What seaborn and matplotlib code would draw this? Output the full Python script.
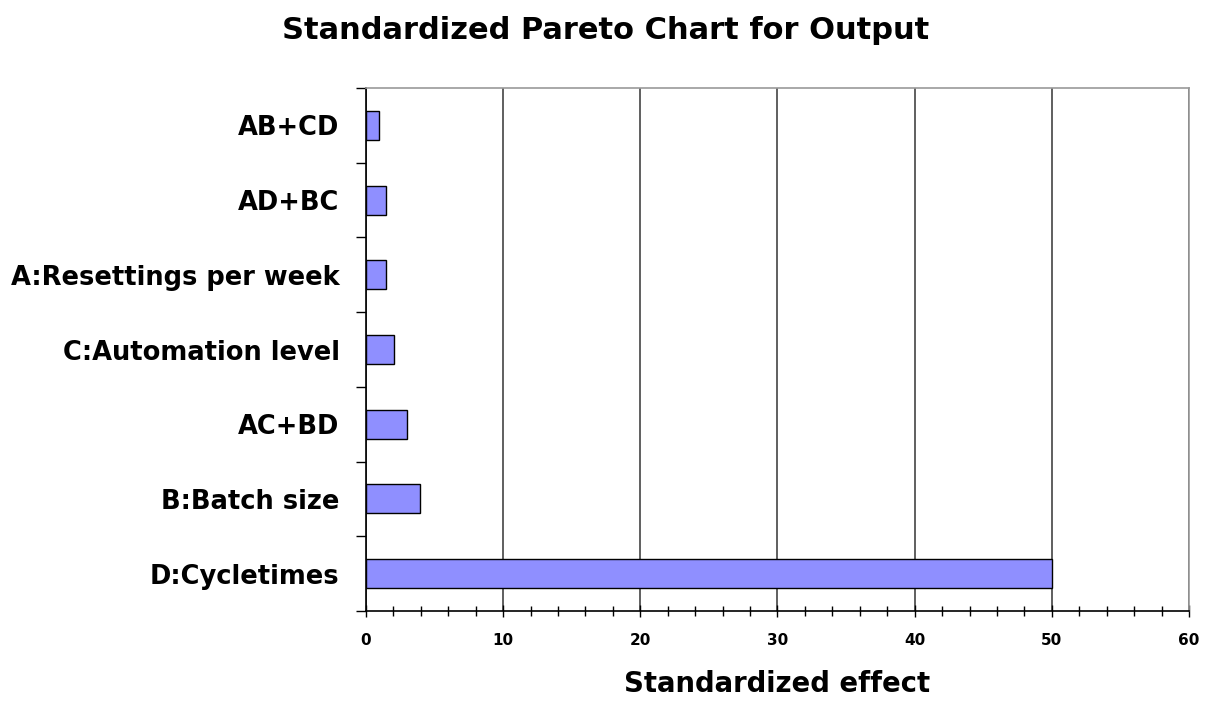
import matplotlib
matplotlib.use("Agg")
import matplotlib.pyplot as plt
from matplotlib.ticker import MultipleLocator, FixedLocator
import seaborn as sns
import pandas as pd

factors = ["AB+CD", "AD+BC", "A:Resettings per week", "C:Automation level",
           "AC+BD", "B:Batch size", "D:Cycletimes"]
effects = [0.95, 1.45, 1.45, 2.05, 3.0, 3.95, 50.0]
x_ticks = [0, 10, 20, 30, 40, 50, 60]

sns.set_theme(style="white")
plt.rcParams["font.family"] = ["DejaVu Sans"]
plt.rcParams["text.color"] = "black"
plt.rcParams["axes.labelcolor"] = "black"
plt.rcParams["xtick.color"] = "black"
plt.rcParams["ytick.color"] = "black"

df = pd.DataFrame({"factor": factors, "effect": effects})

fig = plt.figure(figsize=(12.07, 7.04), dpi=100)
ax = fig.add_axes([0.3032, 0.1321, 0.6819, 0.7429])

sns.barplot(data=df, x="effect", y="factor", orient="h", order=factors,
            color="#8f8fff", saturation=1, width=0.39, edgecolor="black",
            linewidth=1.0, ax=ax, zorder=3)

ax.set_xlim(0, 60)
ax.set_ylim(len(factors) - 0.5, -0.5)
ax.xaxis.set_major_locator(FixedLocator(x_ticks))
ax.xaxis.set_minor_locator(MultipleLocator(2))
ax.set_xticklabels([str(t) for t in x_ticks], fontsize=11, fontweight="bold")
ax.grid(axis="x", which="major", color="#444444", linewidth=1.2, zorder=0)
ax.grid(axis="y", visible=False)
ax.set_axisbelow(True)

ax.yaxis.set_minor_locator(FixedLocator([i - 0.5 for i in range(len(factors) + 1)]))
ax.tick_params(axis="y", which="major", length=0, pad=19, labelsize=18.5, labelcolor="black")
ax.tick_params(axis="y", which="minor", left=True, length=7, width=1.0, color="black", direction="out")
ax.tick_params(axis="x", which="major", bottom=True, length=8, width=1.0, color="black",
               direction="inout", pad=12, labelcolor="black")
ax.tick_params(axis="x", which="minor", bottom=True, length=7, width=1.0, color="black",
               direction="inout")
for lab in ax.get_yticklabels():
    lab.set_fontweight("bold")

ax.set_ylabel("")
ax.set_xlabel("Standardized effect", fontsize=19.8, fontweight="bold", labelpad=16, color="black")

for side in ["left", "bottom"]:
    ax.spines[side].set_color("black")
    ax.spines[side].set_linewidth(1.2)
for side in ["top", "right"]:
    ax.spines[side].set_visible(True)
    ax.spines[side].set_color("#999999")
    ax.spines[side].set_linewidth(1.2)

fig.text(0.502, 0.957, "Standardized Pareto Chart for Output", ha="center", va="center",
         fontsize=22, fontweight="bold", color="black")

fig.savefig("out.png", dpi=100, facecolor="white")
